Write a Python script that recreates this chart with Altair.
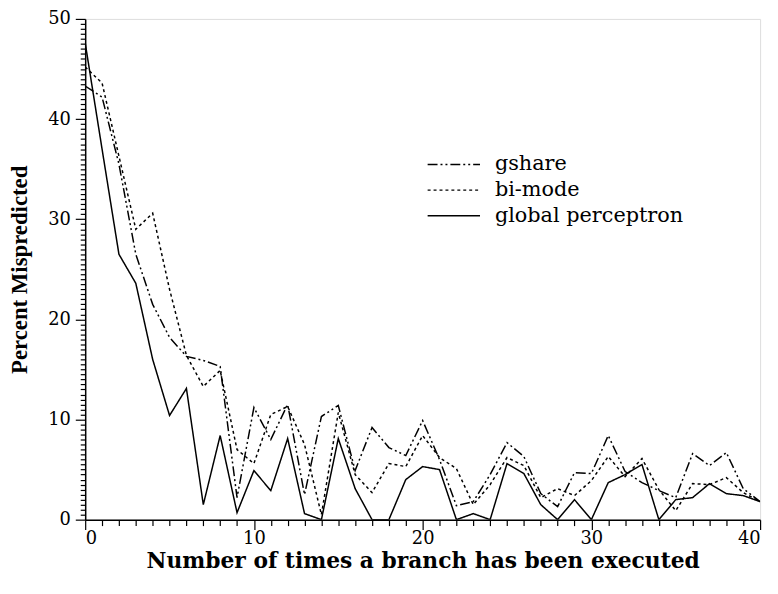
import altair as alt
import pandas as pd

x_vals = list(range(41))

gshare = [43.3, 42.2, 35.5, 26.5, 21.5, 18.2, 16.3, 15.9, 15.3, 2.2,
          11.2, 8.0, 11.5, 2.5, 10.3, 11.4, 4.9, 9.2, 7.2, 6.4,
          9.9, 6.0, 1.4, 1.8, 4.5, 7.7, 6.3, 2.6, 1.3, 4.7,
          4.6, 8.4, 4.8, 3.7, 2.9, 2.2, 6.6, 5.4, 6.7, 3.1, 1.8]

bimode = [45.2, 43.6, 36.3, 29.0, 30.6, 23.0, 16.4, 13.3, 14.9, 7.0,
          5.6, 10.5, 11.3, 7.5, 0.5, 10.7, 4.5, 2.7, 5.6, 5.3,
          8.4, 6.2, 5.1, 1.5, 3.5, 6.2, 5.4, 2.2, 3.1, 2.4,
          3.9, 6.3, 4.3, 6.1, 3.0, 0.9, 3.6, 3.5, 4.2, 2.7, 1.8]

perceptron = [47.6, 37.0, 26.5, 23.6, 16.0, 10.4, 13.1, 1.5, 8.4, 0.7,
              4.9, 2.9, 8.1, 0.6, 0.0, 8.1, 3.1, 0.0, 0.0, 4.0,
              5.3, 5.0, 0.0, 0.6, 0.0, 5.6, 4.6, 1.5, 0.0, 2.0,
              0.0, 3.7, 4.5, 5.5, 0.0, 2.0, 2.2, 3.6, 2.6, 2.4, 1.8]

series_names = ["gshare", "bi-mode", "global perceptron"]
series_dash = [[10, 3, 2, 3, 2, 3], [3, 3], [1, 0]]

rows = []
for name, vals in zip(series_names, [gshare, bimode, perceptron]):
    for xv, yv in zip(x_vals, vals):
        rows.append({"x": xv, "y": yv, "series": name})
df = pd.DataFrame(rows)

FONT = "DejaVu Serif"
TFONT = "Liberation Serif"

x_axis = alt.Axis(
    values=list(range(0, 41)),
    labelExpr="datum.value % 10 === 0 ? format(datum.value, 'd') : ''",
    tickSize={"condition": {"test": "datum.value % 10 === 0", "value": 10}, "value": 6},
    grid=False, domainColor="black", tickColor="black", tickWidth=1.2, domainWidth=1.5,
    labelFont=FONT, labelFontSize=18, labelColor="black", labelPadding=0,
    title="Number of times a branch has been executed",
    titleFont=FONT, titleFontSize=22, titleFontWeight="bold", titleColor="black",
    titlePadding=3,
)

y_axis = alt.Axis(
    values=[i * 0.5 for i in range(101)],
    labelExpr="datum.value % 10 === 0 ? format(datum.value, 'd') : ''",
    tickSize={"condition": {"test": "datum.value % 10 === 0", "value": 10}, "value": 5},
    grid=False, domainColor="black", tickColor="black", tickWidth=1.2, domainWidth=1.5,
    labelFont=FONT, labelFontSize=18, labelColor="black", labelPadding=5,
    title="Percent Mispredicted",
    titleFont=TFONT, titleFontSize=23, titleFontWeight="bold", titleColor="black",
    titlePadding=16,
)

chart = alt.Chart(df).mark_line(strokeWidth=1.5, color="black", clip=True).encode(
    x=alt.X("x:Q", scale=alt.Scale(domain=[0, 40], nice=False, zero=False), axis=x_axis),
    y=alt.Y("y:Q", scale=alt.Scale(domain=[0, 50], nice=False), axis=y_axis),
    strokeDash=alt.StrokeDash(
        "series:N",
        scale=alt.Scale(domain=series_names, range=series_dash),
        legend=alt.Legend(
            title=None, orient="none", legendX=345, legendY=136,
            labelFont=FONT, labelFontSize=21, labelColor="black", labelLimit=0,
            symbolType="stroke", symbolSize=2800, symbolStrokeWidth=1.5,
            symbolStrokeColor="black", clipHeight=22, rowPadding=4, labelOffset=14,
        ),
    ),
    detail="series:N",
).properties(
    width=682, height=506,
    autosize=alt.AutoSizeParams(type="none"),
    padding={"left": 78, "top": 8, "right": 10, "bottom": 64},
).configure_view(stroke=None).configure(background="white")

chart.save("out.html", embed_options={"renderer": "svg", "actions": False})
